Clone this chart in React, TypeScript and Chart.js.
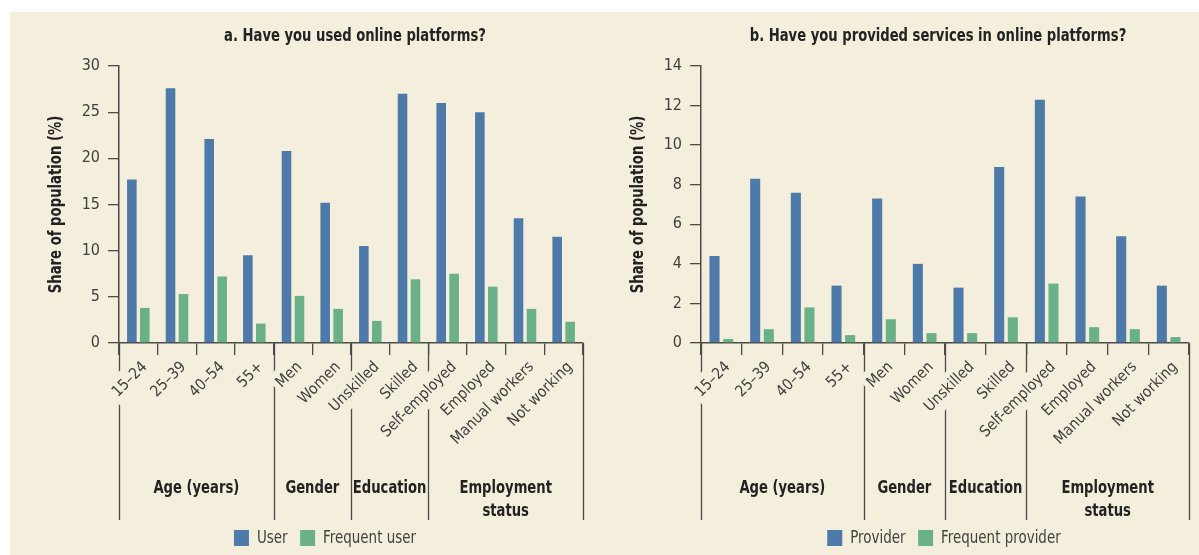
import React, { useEffect, useRef } from "react";
import { Chart, registerables } from "chart.js";

Chart.register(...registerables);

// ---------- data ----------
const categories = [
  "15–24",
  "25–39",
  "40–54",
  "55+",
  "Men",
  "Women",
  "Unskilled",
  "Skilled",
  "Self-employed",
  "Employed",
  "Manual workers",
  "Not working",
];
const groupBoundaries = [0, 4, 6, 8, 12];
const groupLabels = [["Age (years)"], ["Gender"], ["Education"], ["Employment", "status"]];

const userValues = [17.7, 27.6, 22.1, 9.5, 20.8, 15.2, 10.5, 27.0, 26.0, 25.0, 13.5, 11.5];
const frequentUserValues = [3.8, 5.3, 7.2, 2.1, 5.1, 3.7, 2.4, 6.9, 7.5, 6.1, 3.7, 2.3];
const providerValues = [4.4, 8.3, 7.6, 2.9, 7.3, 4.0, 2.8, 8.9, 12.3, 7.4, 5.4, 2.9];
const frequentProviderValues = [0.2, 0.7, 1.8, 0.4, 1.2, 0.5, 0.5, 1.3, 3.0, 0.8, 0.7, 0.3];

const titleA = "a. Have you used online platforms?";
const titleB = "b. Have you provided services in online platforms?";
const yTitle = "Share of population (%)";
const yMaxA = 30;
const yStepA = 5;
const yMaxB = 14;
const yStepB = 2;

// ---------- style ----------
const BG = "#F4EFDC";
const BLUE = "#4E7AAA";
const GREEN = "#6AB187";
const AXIS = "#4a4a4a";
const TEXT = "#404040";
const DARK = "#222222";
const FAMILY = "'DejaVu Sans Condensed', 'Liberation Sans Narrow', sans-serif";
const CANVAS_H = 543;
const SQUEEZE = 0.86;

function squeezedText(ctx: CanvasRenderingContext2D, text: string, x: number, y: number, sx: number) {
  ctx.save();
  ctx.translate(x, y);
  ctx.scale(sx, 1);
  ctx.fillText(text, 0, 0);
  ctx.restore();
}

const overlayPlugin = {
  id: "overlay",
  beforeDraw(chart: any, _args: any, opts: any) {
    const { ctx, chartArea } = chart;
    const xs = chart.scales.x;
    ctx.save();
    ctx.strokeStyle = AXIS;
    ctx.lineWidth = 1.3;
    for (const b of opts.boundaries) {
      const px = Math.round(xs.getPixelForValue(b - 0.5)) + 0.5;
      ctx.beginPath();
      ctx.moveTo(px, chartArea.bottom);
      ctx.lineTo(px, opts.sepBottom);
      ctx.stroke();
    }
    ctx.restore();
  },
  afterDraw(chart: any, _args: any, opts: any) {
    const { ctx, chartArea } = chart;
    const xs = chart.scales.x;
    ctx.save();
    // title
    ctx.fillStyle = DARK;
    ctx.font = `bold 17px ${FAMILY}`;
    ctx.textAlign = "center";
    ctx.textBaseline = "middle";
    squeezedText(ctx, opts.title, opts.titleX, opts.titleY, SQUEEZE);
    // y axis title
    ctx.save();
    ctx.translate(opts.yTitleX, (chartArea.top + chartArea.bottom) / 2);
    ctx.rotate(-Math.PI / 2);
    ctx.font = `bold 17.5px ${FAMILY}`;
    squeezedText(ctx, opts.yTitle, 0, 0, 0.84);
    ctx.restore();
    // group labels
    ctx.font = `bold 17px ${FAMILY}`;
    const bs = opts.boundaries;
    for (let i = 0; i < bs.length - 1; i++) {
      const cx = (xs.getPixelForValue(bs[i] - 0.5) + xs.getPixelForValue(bs[i + 1] - 0.5)) / 2;
      const lines = opts.groups[i];
      lines.forEach((ln: string, j: number) => {
        squeezedText(ctx, ln, cx, opts.groupY + j * 23, SQUEEZE);
      });
    }
    // legend
    ctx.font = `17px ${FAMILY}`;
    ctx.textAlign = "left";
    const sx = 0.88;
    const boxW = 15;
    const boxH = 16;
    const gapText = 8;
    const gapItem = 12.5;
    const items = chart.data.datasets.map((d: any) => ({
      label: d.label,
      color: d.backgroundColor,
      w: ctx.measureText(d.label).width * sx,
    }));
    const total = items.reduce((s: number, it: any) => s + boxW + gapText + it.w, 0) + gapItem * (items.length - 1);
    let x = opts.legendX - total / 2;
    for (const it of items) {
      ctx.fillStyle = it.color;
      ctx.fillRect(x, opts.legendY - boxH / 2, boxW, boxH);
      x += boxW + gapText;
      ctx.fillStyle = TEXT;
      squeezedText(ctx, it.label, x, opts.legendY + 1, sx);
      x += it.w + gapItem;
    }
    ctx.restore();
  },
};

type PanelProps = {
  left: number;
  width: number;
  title: string;
  titleX: number;
  legendX: number;
  yAxisWidth: number;
  padRight: number;
  yTitleX: number;
  yMax: number;
  yStep: number;
  labels: [string, string];
  values: [number[], number[]];
};

function Panel(p: PanelProps) {
  const ref = useRef<HTMLCanvasElement | null>(null);
  useEffect(() => {
    if (!ref.current) return;
    const chart = new Chart(ref.current, {
      type: "bar",
      data: {
        labels: categories,
        datasets: [
          {
            label: p.labels[0],
            data: p.values[0],
            backgroundColor: BLUE,
            borderWidth: 0,
            categoryPercentage: 0.67,
            barPercentage: 0.74,
          },
          {
            label: p.labels[1],
            data: p.values[1],
            backgroundColor: GREEN,
            borderWidth: 0,
            categoryPercentage: 0.67,
            barPercentage: 0.74,
          },
        ],
      },
      options: {
        responsive: false,
        animation: false,
        devicePixelRatio: 1,
        layout: { padding: { left: 0, right: p.padRight, top: 54, bottom: 0 } },
        plugins: {
          legend: { display: false },
          tooltip: { enabled: false },
          title: { display: false },
          overlay: {
            boundaries: groupBoundaries,
            groups: groupLabels,
            sepBottom: 508,
            title: p.title,
            titleX: p.titleX,
            titleY: 25,
            yTitle: yTitle,
            yTitleX: p.yTitleX,
            groupY: 477,
            legendX: p.legendX,
            legendY: 526,
          },
        } as any,
        scales: {
          x: {
            offset: true,
            grid: {
              offset: true,
              drawOnChartArea: false,
              drawTicks: true,
              tickLength: 12,
              color: AXIS,
              lineWidth: 1.3,
            },
            border: { display: true, color: AXIS, width: 1.5 },
            ticks: {
              autoSkip: false,
              minRotation: 45,
              maxRotation: 45,
              padding: 3,
              color: TEXT,
              font: { family: FAMILY, size: 15.5 },
              showLabelBackdrop: true,
              backdropColor: BG,
              backdropPadding: 4,
            } as any,
            afterFit: (s: any) => {
              s.height = CANVAS_H - 331;
            },
          },
          y: {
            min: 0,
            max: p.yMax,
            grid: {
              drawOnChartArea: false,
              drawTicks: true,
              tickLength: 11,
              color: AXIS,
              lineWidth: 1.3,
            },
            border: { display: true, color: AXIS, width: 1.5 },
            ticks: {
              stepSize: p.yStep,
              padding: 8,
              color: TEXT,
              font: { family: FAMILY, size: 16 },
            },
            title: { display: false },
            afterFit: (s: any) => {
              s.width = p.yAxisWidth;
            },
          },
        },
      },
      plugins: [overlayPlugin as any],
    });
    return () => chart.destroy();
  }, []);
  return (
    <canvas
      ref={ref}
      width={p.width}
      height={CANVAS_H}
      style={{ position: "absolute", left: p.left, top: 0, width: p.width, height: CANVAS_H }}
    />
  );
}

export default function App() {
  return (
    <div
      style={{
        position: "absolute",
        left: 10,
        top: 12,
        width: 1189,
        height: CANVAS_H,
        background: BG,
        overflow: "hidden",
      }}
    >
      <Panel
        left={0}
        width={590}
        title={titleA}
        titleX={345}
        legendX={315}
        yAxisWidth={109}
        padRight={17}
        yTitleX={46}
        yMax={yMaxA}
        yStep={yStepA}
        labels={["User", "Frequent user"]}
        values={[userValues, frequentUserValues]}
      />
      <Panel
        left={590}
        width={599}
        title={titleB}
        titleX={338}
        legendX={344}
        yAxisWidth={101}
        padRight={10}
        yTitleX={38}
        yMax={yMaxB}
        yStep={yStepB}
        labels={["Provider", "Frequent provider"]}
        values={[providerValues, frequentProviderValues]}
      />
    </div>
  );
}
